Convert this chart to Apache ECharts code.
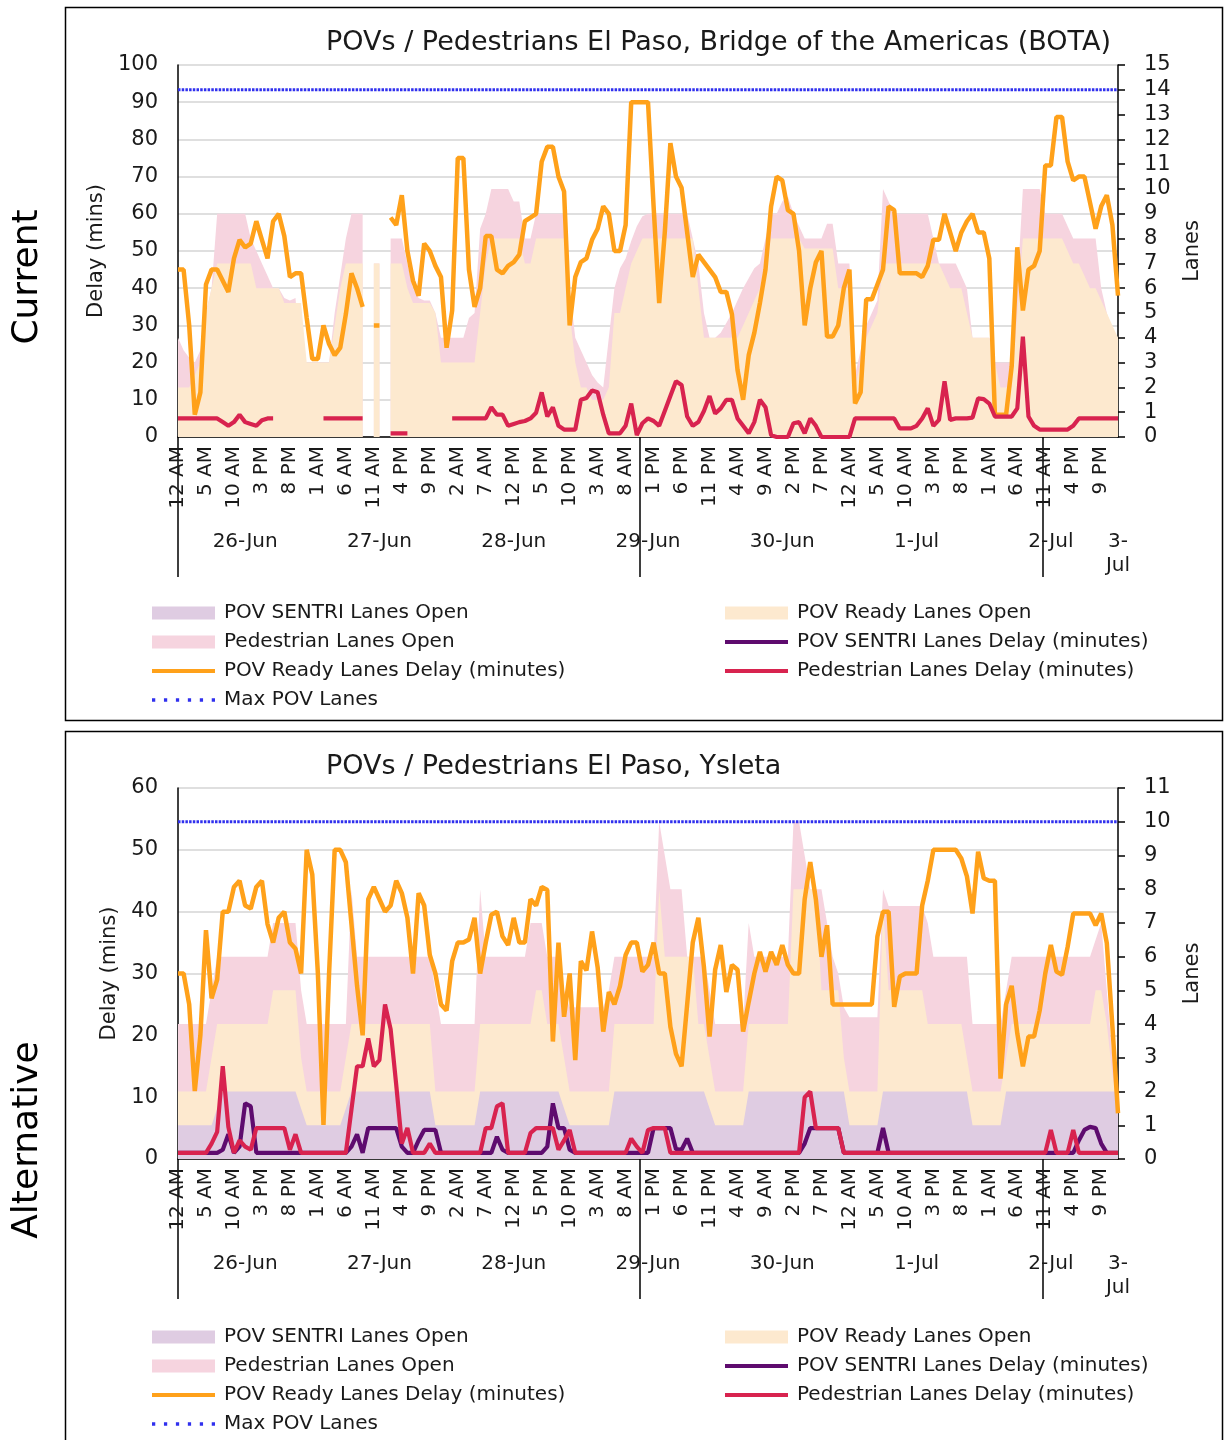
<!DOCTYPE html>
<html><head><meta charset="utf-8">
<script src="https://cdn.jsdelivr.net/npm/echarts@6/dist/echarts.min.js"></script>
<style>html,body{margin:0;padding:0;background:#fff}#c{width:1225px;height:1440px}</style>
</head><body><div id="c"></div>
<script>
// ---------- axis labels ----------
const hourNames = ['12 AM','1 AM','2 AM','3 AM','4 AM','5 AM','6 AM','7 AM','8 AM','9 AM','10 AM','11 AM',
                   '12 PM','1 PM','2 PM','3 PM','4 PM','5 PM','6 PM','7 PM','8 PM','9 PM','10 PM','11 PM'];
const dayNames = ['26-Jun','27-Jun','28-Jun','29-Jun','30-Jun','1-Jul','2-Jul'];
const lastCategory = '3-Jul 12 AM';
const dayLabelPos = [12,36,60,84,108,132,156,168];
const dayLabels = ['26-Jun','27-Jun','28-Jun','29-Jun','30-Jun','1-Jul','2-Jul','3-\nJul'];
const separatorPos = [0,82.6,154.6];

// ---------- BOTA (current) ----------
const topReadyDelay = [
45,45,30,6,12,41,45,45,42,39,
48,53,51,52,58,53,48,58,60,54,
43,44,44,32,21,21,30,25,22,24,
33,44,40,35,null,30,30,null,59,57,
65,50,42,38,52,50,46,43,24,34,
75,75,45,35,40,54,54,45,44,46,
47,49,58,59,60,74,78,78,70,66,
30,43,47,48,53,56,62,60,50,50,
57,90,90,90,90,62,36,55,79,70,
67,55,43,49,47,45,43,39,39,33,
18,10,22,28,36,45,62,70,69,61,
60,50,30,40,47,50,27,27,30,40,
45,9,12,37,37,41,45,62,61,44,
44,44,44,43,46,53,53,60,55,50,
55,58,60,55,55,48,6,6,6,19,
51,34,45,46,50,73,73,86,86,74,
69,70,70,63,56,62,65,57,38];
const topPedDelay = [
5,5,5,5,5,5,5,5,4,3,
4,6,4,3.5,3,4.5,5,5,null,null,
null,null,null,null,null,null,5,5,5,5,
5,5,5,5,null,null,null,null,1,1,
1,1,null,null,null,null,null,null,null,5,
5,5,5,5,5,5,8,6,6,3,
3.5,4,4.3,5,6.5,12,5.5,8,3,2,
2,2,10,10.5,12.5,12,6,1,1,1,
3,9,0.5,3.7,5,4.3,3,7,11,15,
14,5.5,3,4,7,11,6.3,7.7,10,10,
5,3,1,4,10,8,0.5,0,0,0,
3.7,4,1,5,3,0,0,0,0,0,
0,5,5,5,5,5,5,5,5,2.3,
2.3,2.3,3,5,7.7,3,4.6,15,4.6,5,
5,5,5.2,10.4,10.2,9,5.5,5.5,5.5,5.5,
7.7,27,5.5,3,2,2,2,2,2,2,
3,5,5,5,5,5,5,5,5];
const topSentriDelay = [];
const topSentriLanes = [];
const topReadyLanes = [
2,2,2,2.5,3,5,6,7,7,7,
7,7,7,7,6,6,6,6,6,5.4,
5.4,5.4,5.4,3,3,3,3,3,4.5,6,
7,7,7,7,null,7,7,null,7,7,
7,6,5.4,5.4,5.4,5.4,5,3,3,3,
3,3,3,3,5,7,8,8,8,8,
8,8,7,7,8,8,8,8,8,8,
5,3,2,2,1.5,1.5,1.5,2,5,5,
6,7,7.5,8,8,8,8,8,8,8,
8,8,8,6,4,4,4,4,4,4,
4,4.5,5,5.5,6,7,8,8,8,8,
8,8,7.6,7.6,7.6,7.6,7.6,7.6,6,6,
6,2,3,4,4.5,5,7,7,7,7,
7,7,7,7,7,7,7,6.5,6,6,
6,5,4,4,4,4,3,2,2,2,
5,8,8,8,8,8,8,8,8,7.5,
7,7,6.5,6,6,5.5,5,4.5,4];
const topPedLanes = [
4,3.5,3.2,3,3.5,5,6,9,9,9,
9,9,9,8,7.5,7,6.5,6,6,5.6,
5.5,5.6,2.8,3,3,3,3,3,5,6.5,
8,9,9,9,null,7,7,null,8,8,
8,7,6,5.6,5.5,5.5,5,4,4,4,
4,4,4.8,5,8.4,9,10,10,10,10,
9.5,9.5,8,8,9,9,9,9,9,9,
6,4,3.5,3,2.5,2.2,2,4,6,6.8,
7.2,7.9,8.5,8.9,9,9,9,9,9,9,
9,9,8,7,5,4,4,4.2,4.6,5,
5.5,6,6.4,6.8,7,8,9,9,9.5,9.7,
9,8.5,8,8,8,8,8.6,8.6,7,7,
7,2.5,3.5,4.5,5,5.5,10,9.5,9,9,
9,9,9,9,9,8,7,7,7,7,
6.5,6,4,4,4,4,3,3,3,3,
6,10,10,10,10,9,9,9,9,8.5,
8,8,8,8,8,6,5,4.2,4];
const topMaxLanes = [
14,14,14,14,14,14,14,14,14,14,14,14,14,14,14,14,14,14,14,14,14,14,14,14,
14,14,14,14,14,14,14,14,14,14,14,14,14,14,14,14,14,14,14,14,14,14,14,14,
14,14,14,14,14,14,14,14,14,14,14,14,14,14,14,14,14,14,14,14,14,14,14,14,
14,14,14,14,14,14,14,14,14,14,14,14,14,14,14,14,14,14,14,14,14,14,14,14,
14,14,14,14,14,14,14,14,14,14,14,14,14,14,14,14,14,14,14,14,14,14,14,14,
14,14,14,14,14,14,14,14,14,14,14,14,14,14,14,14,14,14,14,14,14,14,14,14,
14,14,14,14,14,14,14,14,14,14,14,14,14,14,14,14,14,14,14,14,14,14,14,14,14];

// ---------- Ysleta (alternative) ----------
const botReadyDelay = [
30,30,25,11,20,37,26,29,40,40,
44,45,41,40.5,44,45,38,35,39,40,
35,34,30,50,46,30,5.5,30,50,50,
48,38,28,20,42,44,42,40,41,45,
43,39,30,43,41,33,30,25,24,32,
35,35,35.5,39,30,35,39.5,40,36,34.6,
39,35,35,42,41,44,43.5,19,35,23,
30,16,32,30.5,36.8,31,20.6,27,25,28,
33,35,35,30.3,31.4,35,30,30,21.4,17,
15,25,35,39,31,19.8,30.6,34.6,27,31.4,
30.6,20.6,25.4,30,33.5,30.3,33.5,31.4,34.6,31.4,
30,30,42,48,42,32.7,37.8,25,25,25,
25,25,25,25,25,36,40,40,24.6,29.5,
30,30,30,41,45,50,50,50,50,50,
48.6,45.7,39.7,49.7,45.4,45,45,13,25,28,
20.3,15,19.8,19.8,24,30,34.6,30.3,29.8,34.3,
39.7,39.7,39.7,39.7,37.8,39.7,34.9,21.4,7.4];
const botPedDelay = [
1,1,1,1,1,1,2.5,4.4,15,5.2,
1,3,2,1.5,5,5,5,5,5,5,
1.5,4,1,1,1,1,1,1,1,1,
1,8,15,15,19.5,15,16,25,21,12,
2.5,5,1,1,1,2.5,1,1,1,1,
1,1,1,1,1,5,5,8.5,9,1,
1,1,1,4.2,5,5,5,5,1.5,3,
4.7,1,1,1,1,1,1,1,1,1,
1,3.3,2,1,4.7,5,5,5,1,1,
1,1,1,1,1,1,1,1,1,1,
1,1,1,1,1,1,1,1,1,1,
1,1,10,10.9,5,5,5,5,5,1,
1,1,1,1,1,1,1,1,1,1,
1,1,1,1,1,1,1,1,1,1,
1,1,1,1,1,1,1,1,1,1,
1,1,1,1,1,1,4.7,1,1,1,
4.7,1,1,1,1,1,1,1,1];
const botSentriDelay = [
1,1,1,1,1,1,1,1,1.5,4,
1,2,9,8.5,1,1,1,1,1,1,
1,1,1,1,1,1,1,1,1,1,
1,2,4,1,5,5,5,5,5,5,
2,1,1,3,4.7,4.7,4.7,1,1,1,
1,1,1,1,1,1,1,3.6,1.5,1,
1,1,1,1,1,1,2,9,5,5,
1.5,1,1,1,1,1,1,1,1,1,
1,1,1,1,1,5,5,5,5,1.6,
1.5,3.3,1,1,1,1,1,1,1,1,
1,1,1,1,1,1,1,1,1,1,
1,1,2.5,5,5,5,5,5,5,1,
1,1,1,1,1,1,5,1,1,1,
1,1,1,1,1,1,1,1,1,1,
1,1,1,1,1,1,1,1,1,1,
1,1,1,1,1,1,1,1,1,1,
1,3,4.7,5.2,5,2.5,1,1,1];
const botSentriLanes = [
1,1,1,1,1,1,1,1.5,2,2,
2,2,2,2,2,2,2,2,2,2,
2,2,1.5,1,1,1,1,1,1,1,
1.5,2,2,2,2,2,2,2,2,2,
2,2,2,2,2,2,1,1,1,1,
1,1,1,1,2,2,2,2,2,2,
2,2,2,2,2,2,2,2,2,1.5,
1,1,1,1,1,1,1,1,2,2,
2,2,2,2,2,2,2,2,2,2,
2,2,2,2,2,1.5,1,1,1,1,
1,1,2,2,2,2,2,2,2,2,
2,2,2,2,2,2,2,2,2,2,
1,1,1,1,1,1,2,2,2,2,
2,2,2,2,2,2,2,2,2,2,
2,2,1,1,1,1,1,1,2,2,
2,2,2,2,2,2,2,2,2,2,
2,2,2,2,2,2,2,2,2];
const botReadyLanes = [
2,2,2,2,2,2,3,4,4,4,
4,4,4,4,4,4,4,5,5,5,
5,5,3,2,2,2,2,2,2,2,
3,4,4,4,4,4,4,4,4,4,
4,4,4,4,4,4,2,2,2,2,
2,2,2,2,4,4,4,4,4,4,
4,4,4,4,5,5,4,4,4,3,
2,2,2,2,2,2,2,2,4,4,
4,4,4,4,4,4,8,6,6,6,
6,6,6,4,4,3,2,2,2,2,
2,2,4,4,4,4,4,4,4,4,
8,8,8,8,8,5,5,5,5,3,
2,2,2,2,2,2,7.5,5,5,5,
5,5,5,5,4,4,4,4,4,4,
4,3,2,2,2,2,2,2,3,4,
4,4,4,4,4,4,4,4,4,4,
4,4,4,4,5,5,4,2.5,1.5];
const botPedLanes = [
4,4,4,4,4,4,5,6,6,6,
6,6,6,6,6,6,6,7,7,7,
7,7,5,4,4,4,4,4,4,4,
4,8,6,6,6,6,6,6,6,6,
6,6,6,6,6,6,5,4,4,4,
4,4,4,4,8,6,6,6,6,6,
6,6,6,7,7,7,6,6,6,5,
4.5,4.5,4.5,4.5,4.5,4.5,4.5,5,6,6,
6,6,6,6,6,6,10,9,8,8,
8,6,6,6,6,5,4,4,4,4,
4,4,7,6,6,6,6,6,6,6,
10,10,9,8,8,8,7,6,5.5,4.5,
4.2,4.2,4.2,4.2,4.2,4.2,8,7.5,7.5,7.5,
7.5,7.5,7.5,7.5,7,6,6,6,6,6,
6,6,4,4,4,4,4,4,5,6,
6,6,6,6,6,6,6,6,6,6,
6,6,6,6,6.5,7,5,3,2.3];
const botMaxLanes = [
10,10,10,10,10,10,10,10,10,10,10,10,10,10,10,10,10,10,10,10,10,10,10,10,
10,10,10,10,10,10,10,10,10,10,10,10,10,10,10,10,10,10,10,10,10,10,10,10,
10,10,10,10,10,10,10,10,10,10,10,10,10,10,10,10,10,10,10,10,10,10,10,10,
10,10,10,10,10,10,10,10,10,10,10,10,10,10,10,10,10,10,10,10,10,10,10,10,
10,10,10,10,10,10,10,10,10,10,10,10,10,10,10,10,10,10,10,10,10,10,10,10,
10,10,10,10,10,10,10,10,10,10,10,10,10,10,10,10,10,10,10,10,10,10,10,10,
10,10,10,10,10,10,10,10,10,10,10,10,10,10,10,10,10,10,10,10,10,10,10,10,10];

// ---------- build ----------
const categories = [];
dayNames.forEach(d => hourNames.forEach(h => categories.push(d + ' ' + h)));
categories.push(lastCategory);

const FONT = '"DejaVu Sans", Verdana, sans-serif';
const TXT = '#1a1a1a';
const COL = {ped:'#f6d4df', ready:'#fde9cf', sentri:'#dfcce2', orange:'#ffa11a', red:'#d8234f', purple:'#5e0b6e', blue:'#3030ee'};
const N = {sentriOpen:'POV SENTRI Lanes Open', readyOpen:'POV Ready Lanes Open', pedOpen:'Pedestrian Lanes Open',
  sentriDelay:'POV SENTRI Lanes Delay (minutes)', readyDelay:'POV Ready Lanes Delay (minutes)',
  pedDelay:'Pedestrian Lanes Delay (minutes)', max:'Max POV Lanes'};
const LINE_ICON = 'path://M0,0H63V4H0Z';
const DOT_ICON = 'path://M0,0h3v3h-3z M11,0h3v3h-3z M22,0h3v3h-3z M33,0h3v3h-3z M44,0h3v3h-3z M55,0h3v3h-3z';

const grids=[], xAxes=[], yAxes=[], series=[], legends=[], titles=[];

function addPanel(p) {
  const g = grids.length;
  grids.push({left:178, top:p.top, width:940, height:p.height});
  const xi = xAxes.length;
  xAxes.push({gridIndex:g, type:'category', data:categories, boundaryGap:false,
    axisLine:{show:true, onZero:false, lineStyle:{color:'#000', width:1.5}},
    axisTick:{show:false},
    axisLabel:{interval:4, rotate:90, margin:9, fontSize:20, fontFamily:FONT, color:TXT, hideOverlap:false,
      formatter:(v, i) => hourNames[i % 24]},
    splitLine:{show:false}});
  xAxes.push({gridIndex:g, type:'value', min:0, max:168, position:'bottom',
    axisLine:{show:false}, splitLine:{show:false},
    axisTick:{show:true, customValues:separatorPos, length:140, lineStyle:{color:'#000', width:1.5}},
    axisLabel:{customValues:dayLabelPos, margin:93, fontSize:20, fontFamily:FONT, color:TXT, lineHeight:24,
      formatter:v => dayLabels[dayLabelPos.indexOf(v)]}});
  const yl = yAxes.length;
  yAxes.push({gridIndex:g, type:'value', min:0, max:p.leftMax, interval:10, position:'left',
    axisLine:{show:true, lineStyle:{color:'#000', width:1.5}}, axisTick:{show:false},
    axisLabel:{margin:20, fontSize:21, fontFamily:FONT, color:TXT},
    splitLine:{show:true, lineStyle:{color:'#d4d4d4', width:1.5}},
    name:'Delay (mins)', nameLocation:'middle', nameGap:p.leftNameGap,
    nameTextStyle:{fontSize:21, fontFamily:FONT, color:TXT}});
  yAxes.push({gridIndex:g, type:'value', min:0, max:p.rightMax, interval:1, position:'right',
    axisLine:{show:true, lineStyle:{color:'#000', width:1.5}},
    axisTick:{show:true, length:7, lineStyle:{color:'#000', width:1.5}},
    axisLabel:{margin:26, fontSize:21, fontFamily:FONT, color:TXT},
    splitLine:{show:false},
    name:'Lanes', nameLocation:'middle', nameGap:61,
    nameTextStyle:{fontSize:21, fontFamily:FONT, color:TXT}});
  const yr = yl + 1;
  const area = (name, data, color) => ({name, type:'line', xAxisIndex:xi, yAxisIndex:yr, data, color,
    symbol:'none', showSymbol:false, lineStyle:{width:0}, areaStyle:{color, opacity:1}, z:1, silent:true});
  const line = (name, data, color, yi, width, type, z) => ({name, type:'line', xAxisIndex:xi, yAxisIndex:yi, data, color,
    symbol:'none', showSymbol:false, lineStyle:{width, color, type}, z, silent:true});
  series.push(area(N.pedOpen, p.pedLanes, COL.ped));
  series.push(area(N.readyOpen, p.readyLanes, COL.ready));
  series.push(area(N.sentriOpen, p.sentriLanes, COL.sentri));
  series.push(line(N.max, p.maxLanes, COL.blue, yr, 3, [2.5,1.2], 3));
  series.push(line(N.readyDelay, p.readyDelay, COL.orange, yl, 4.5, 'solid', 4));
  series.push(line(N.sentriDelay, p.sentriDelay, COL.purple, yl, 4.2, 'solid', 5));
  series.push(line(N.pedDelay, p.pedDelay, COL.red, yl, 4.2, 'solid', 6));
  titles.push({text:p.title, left:321, top:p.titleTop,
    textStyle:{fontSize:27, fontWeight:'normal', fontFamily:FONT, color:TXT}});
  const lg = {orient:'vertical', padding:0, itemGap:9, itemWidth:63, itemHeight:13, selectedMode:false,
    itemStyle:{borderWidth:0}, lineStyle:{width:0},
    textStyle:{fontSize:20, fontFamily:FONT, color:TXT, lineHeight:20, padding:[0,0,0,4]}};
  legends.push(Object.assign({}, lg, {left:152, top:p.legendTop,
    data:[{name:N.sentriOpen, icon:'rect'}, {name:N.pedOpen, icon:'rect'}, {name:N.readyDelay, icon:LINE_ICON}, {name:N.max, icon:DOT_ICON}]}));
  legends.push(Object.assign({}, lg, {left:725, top:p.legendTop,
    data:[{name:N.readyOpen, icon:'rect'}, {name:N.sentriDelay, icon:LINE_ICON}, {name:N.pedDelay, icon:LINE_ICON}]}));
}

addPanel({top:65, height:372, leftMax:100, rightMax:15, titleTop:24, legendTop:603, leftNameGap:70,
  title:'POVs / Pedestrians El Paso, Bridge of the Americas (BOTA)',
  readyDelay:topReadyDelay, pedDelay:topPedDelay, sentriDelay:topSentriDelay,
  readyLanes:topReadyLanes, pedLanes:topPedLanes, sentriLanes:topSentriLanes, maxLanes:topMaxLanes});
addPanel({top:788, height:371, leftMax:60, rightMax:11, titleTop:748, legendTop:1327, leftNameGap:56,
  title:'POVs / Pedestrians El Paso, Ysleta',
  readyDelay:botReadyDelay, pedDelay:botPedDelay, sentriDelay:botSentriDelay,
  readyLanes:botReadyLanes, pedLanes:botPedLanes, sentriLanes:botSentriLanes, maxLanes:botMaxLanes});

const chart = echarts.init(document.getElementById('c'), null, {renderer:'canvas', width:1225, height:1440});
chart.setOption({
  backgroundColor:'#ffffff',
  animation:false,
  title:titles,
  grid:grids, xAxis:xAxes, yAxis:yAxes, legend:legends, series:series,
  graphic:[
    {type:'rect', silent:true, shape:{x:65.5, y:7.5, width:1157, height:713}, style:{fill:'none', stroke:'#000', lineWidth:1.5}},
    {type:'rect', silent:true, shape:{x:65.5, y:731.5, width:1157, height:730}, style:{fill:'none', stroke:'#000', lineWidth:1.5}},
    {type:'text', silent:true, x:28, y:277, rotation:Math.PI/2,
      style:{text:'Current', font:'36px "DejaVu Sans", Verdana, sans-serif', fill:'#000', textAlign:'center', textVerticalAlign:'middle'}},
    {type:'text', silent:true, x:28, y:1140, rotation:Math.PI/2,
      style:{text:'Alternative', font:'36px "DejaVu Sans", Verdana, sans-serif', fill:'#000', textAlign:'center', textVerticalAlign:'middle'}}
  ]
});
</script></body></html>
